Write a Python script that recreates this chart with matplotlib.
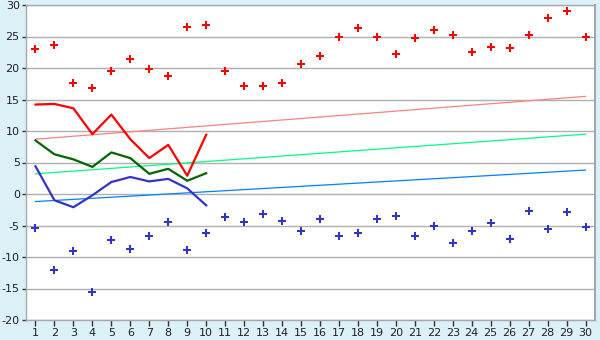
import matplotlib
matplotlib.use("Agg")
import matplotlib.pyplot as plt

days = list(range(1, 31))
max_points = [23.0, 23.6, 17.6, 16.9, 19.6, 21.5, 19.8, 18.7, 26.5, 26.8,
              19.5, 17.2, 17.1, 17.6, 20.6, 21.9, 24.9, 26.3, 24.9, 22.2,
              24.7, 26.0, 25.2, 22.6, 23.4, 23.1, 25.2, 27.9, 29.0, 24.9]
min_points = [-5.4, -12.1, -9.1, -15.6, -7.3, -8.8, -6.7, -4.5, -8.9, -6.2,
              -3.7, -4.5, -3.2, -4.3, -5.9, -4.0, -6.7, -6.2, -4.0, -3.5,
              -6.7, -5.1, -7.7, -5.9, -4.6, -7.2, -2.7, -5.6, -2.9, -5.3]
line_days = list(range(1, 11))
max_line = [14.2, 14.3, 13.6, 9.5, 12.6, 8.7, 5.7, 7.8, 2.9, 9.4]
mean_line = [8.5, 6.3, 5.5, 4.3, 6.6, 5.7, 3.2, 4.0, 2.1, 3.3]
min_line = [4.4, -1.0, -2.1, -0.2, 1.9, 2.7, 2.0, 2.4, 0.9, -1.8]
trend_days = [1, 30]
max_trend = [8.7, 15.5]
mean_trend = [3.2, 9.5]
min_trend = [-1.2, 3.8]
yticks = list(range(-20, 31, 5))

fig = plt.figure(figsize=(6, 3.4), dpi=100)
fig.patch.set_facecolor("#DBF0F7")
ax = fig.add_axes([26/600, 1-320/340, (595-26)/600, (320-5)/340])
ax.set_facecolor("white")

for y in yticks:
    ax.axhline(y, color="#B0B0B0", lw=1.0, zorder=0)

ax.plot(trend_days, max_trend, color="#FF8080", lw=0.9, zorder=1)
ax.plot(trend_days, mean_trend, color="#00FF80", lw=0.9, zorder=1)
ax.plot(trend_days, min_trend, color="#0080FF", lw=0.9, zorder=1)

ax.plot(line_days, max_line, color="#FF0000", lw=1.6, zorder=2)
ax.plot(line_days, mean_line, color="#006600", lw=1.6, zorder=2)
ax.plot(line_days, min_line, color="#3333CC", lw=1.6, zorder=2)

ax.plot(days, max_points, ls="none", marker="P", ms=6, color="#FF0000",
        markeredgewidth=0, zorder=3)
ax.plot(days, min_points, ls="none", marker="P", ms=6, color="#3333CC",
        markeredgewidth=0, zorder=3)

ax.set_xlim(0.5, 30.5)
ax.set_ylim(-20, 30)
ax.set_xticks(days)
ax.set_xticklabels([str(d) for d in days])
ax.set_yticks(yticks)
ax.set_yticklabels([str(y) for y in yticks])
ax.tick_params(axis="x", length=4, width=1, color="#333333", labelsize=8,
               pad=1.5, labelcolor="#222222")
ax.tick_params(axis="y", length=3, width=1, color="#333333", labelsize=8,
               pad=1.5, labelcolor="#222222")
for s in ax.spines.values():
    s.set_color("#A8A8A8")
    s.set_linewidth(1.0)
ax.spines["right"].set_linewidth(1.5)

fig.savefig("out.png", dpi=100, facecolor=fig.get_facecolor())
